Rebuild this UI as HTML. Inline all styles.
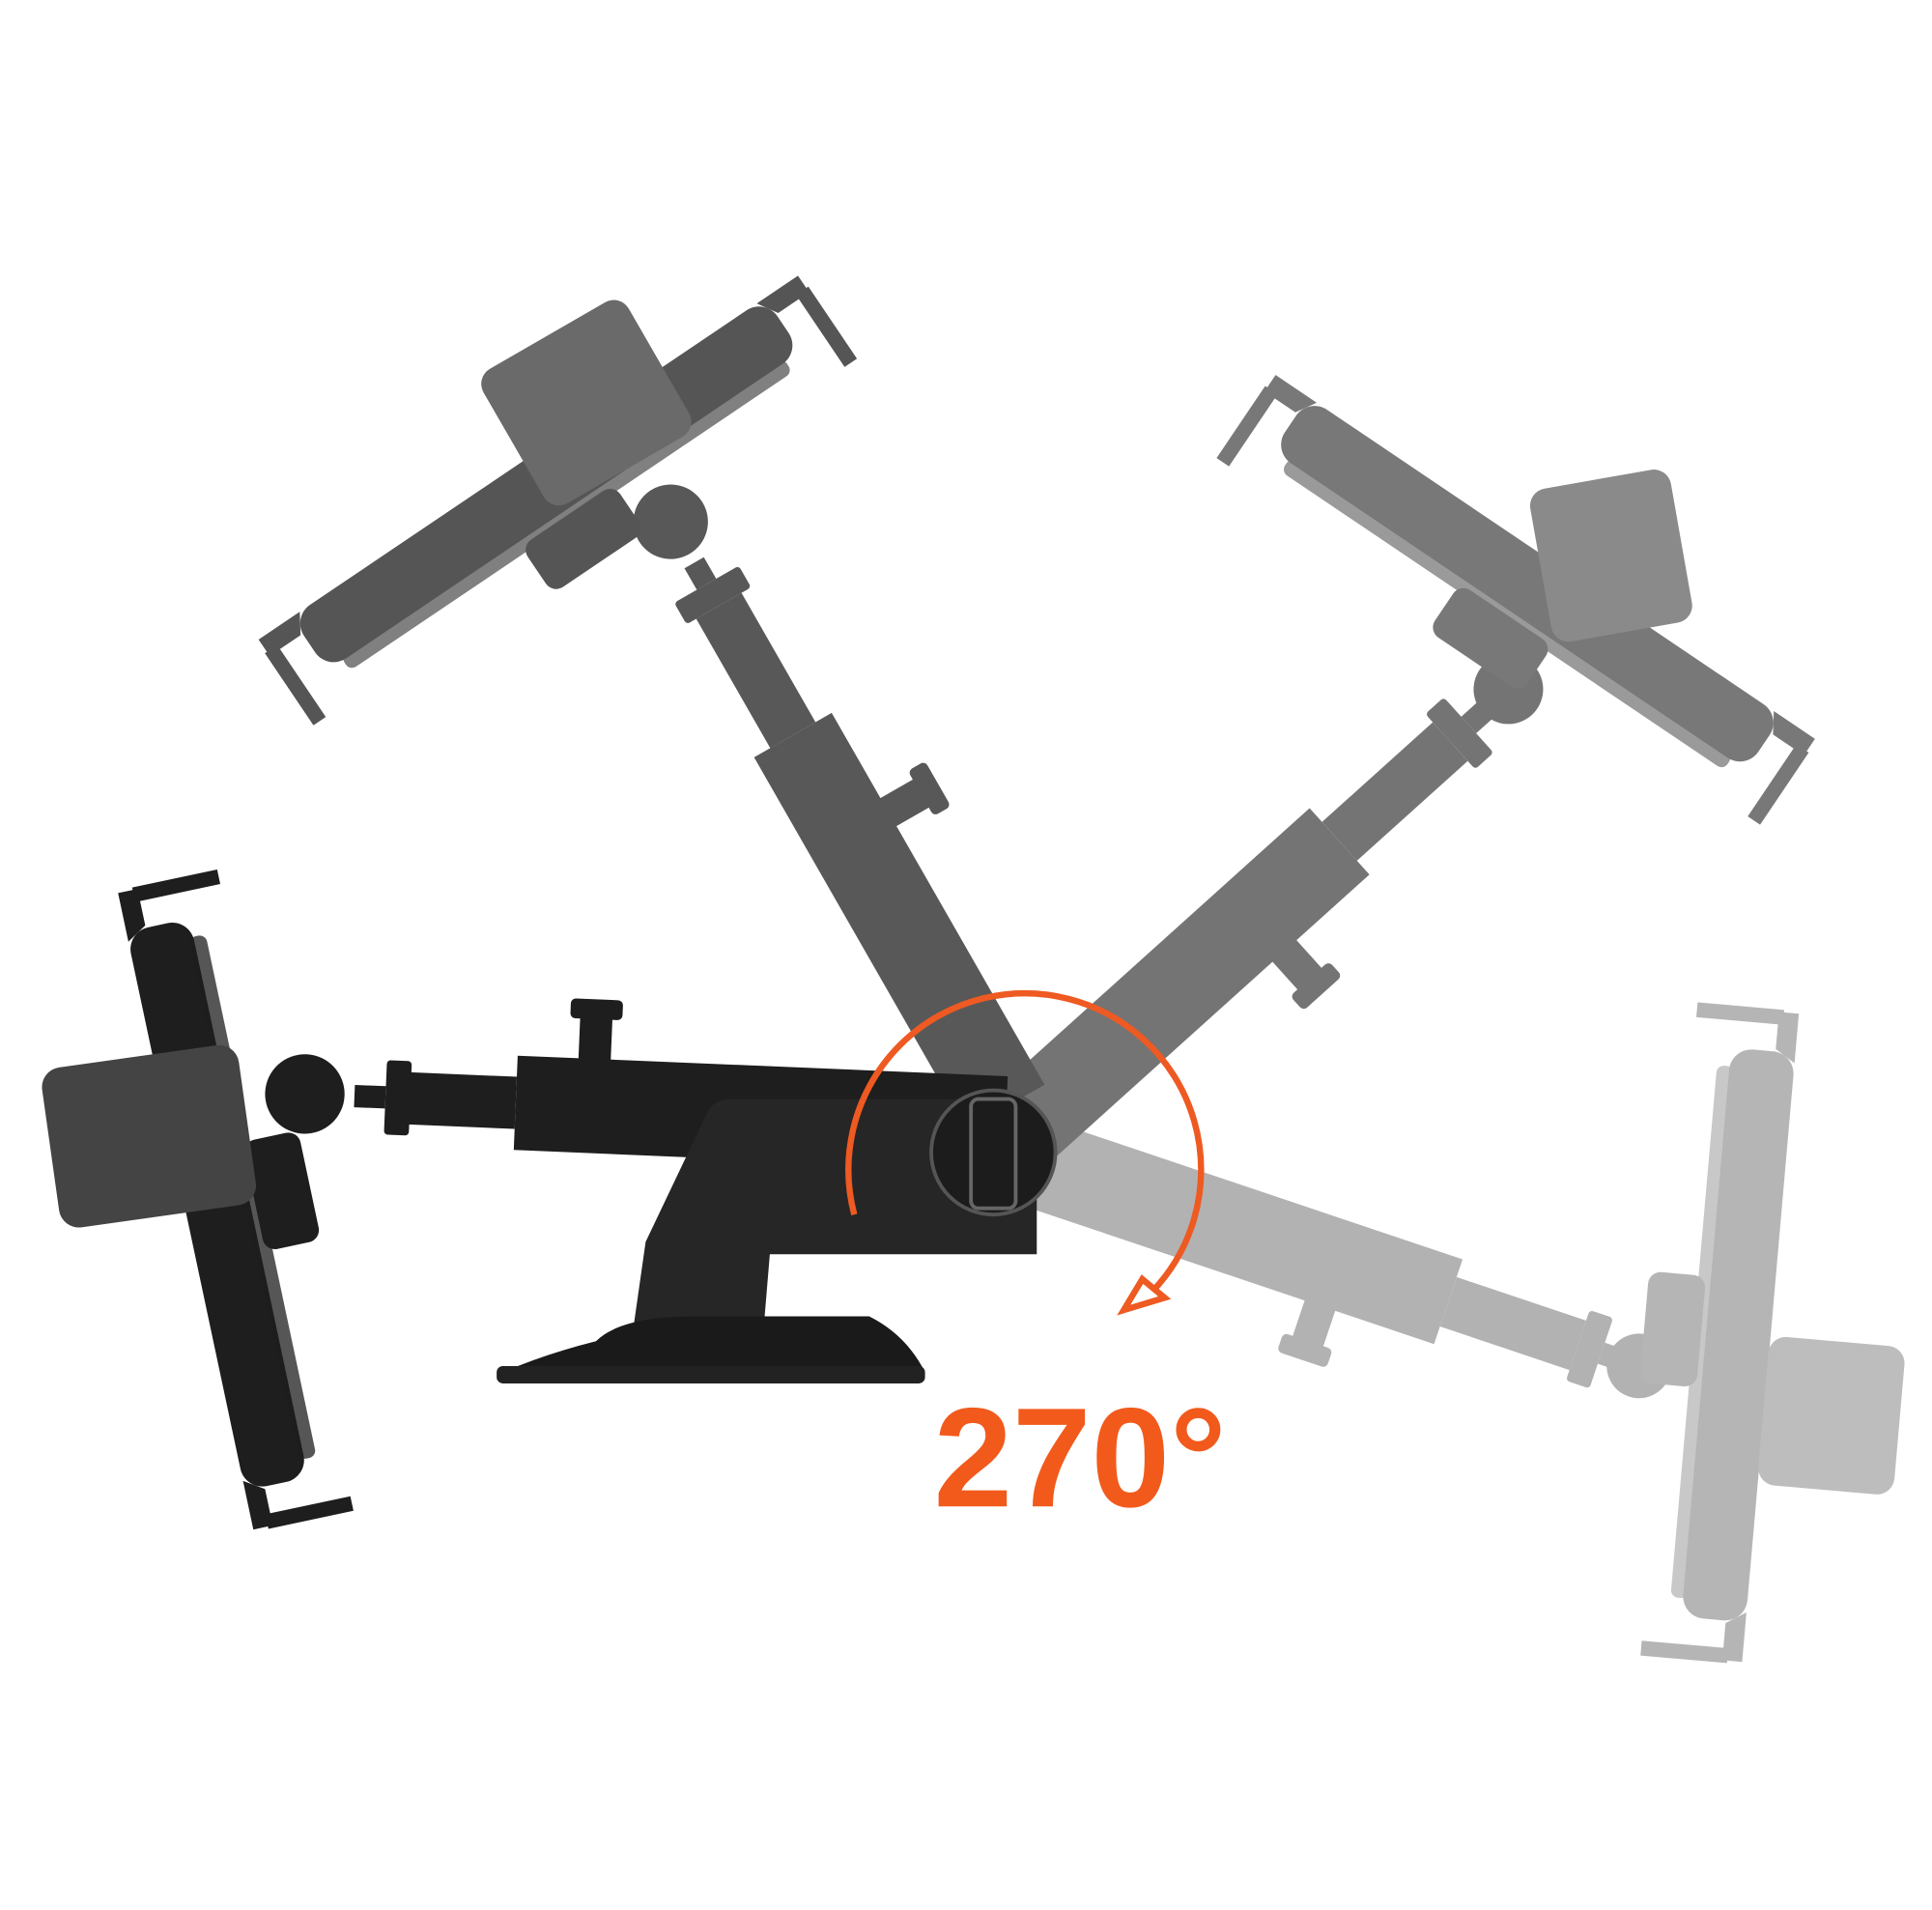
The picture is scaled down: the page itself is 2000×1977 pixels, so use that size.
<!DOCTYPE html>
<html><head><meta charset="utf-8"><style>
html,body{margin:0;padding:0;background:#fff;}
svg{display:block;}
</style></head><body>
<svg width="2000" height="1977" viewBox="0 0 1556 1538" xmlns="http://www.w3.org/2000/svg">
<defs>
<g id="holder">
  <rect x="-26" y="-230" width="52" height="460" rx="18" fill="currentColor"/>
  <rect x="22" y="-215" width="14" height="430" rx="6" fill="currentColor" opacity="0.75"/>
  <path d="M-26 -222 L-26 -262 L-10 -262 L-10 -232 Z" fill="currentColor"/>
  <path d="M-26 222 L-26 262 L-10 262 L-10 232 Z" fill="currentColor"/>
  <rect x="-14" y="-264" width="70" height="12" fill="currentColor"/>
  <rect x="-14" y="252" width="70" height="12" fill="currentColor"/>
  <rect x="30" y="-45" width="46" height="90" rx="10" fill="currentColor"/>
</g>
</defs>

<!-- lower right (lightest) -->
<g fill="#b2b2b2" transform="translate(830,935) rotate(18.6)">
  <rect x="10" y="-36" width="345" height="72"/>
  <rect x="355" y="-21" width="110" height="42"/>
  <rect x="465" y="-30" width="20" height="60" rx="3"/>
  <rect x="485" y="-9" width="20" height="18"/>
  <circle cx="517" cy="0" r="26"/>
  <rect x="245" y="34" width="26" height="36"/>
  <rect x="237" y="66" width="42" height="16" rx="4"/>
</g>
<g color="#b5b5b5" transform="translate(1400,1075) rotate(5)"><use href="#holder" transform="scale(-1,1)"/></g>
<rect x="1420" y="1080" width="110" height="120" rx="14" fill="#bdbdbd" transform="rotate(5 1475 1140)"/>

<!-- upper right -->
<g fill="#747474" transform="translate(815,915) rotate(-42)">
  <rect x="10" y="-36" width="345" height="72"/>
  <rect x="355" y="-21" width="120" height="42"/>
  <rect x="475" y="-30" width="20" height="60" rx="3"/>
  <rect x="495" y="-9" width="20" height="18"/>
  <circle cx="538" cy="0" r="28"/>
  <rect x="250" y="34" width="26" height="36"/>
  <rect x="242" y="66" width="42" height="16" rx="4"/>
</g>
<g color="#787878" transform="translate(1230,470) rotate(-56)"><use href="#holder" transform="scale(-1,1)"/></g>
<rect x="1240" y="385" width="115" height="125" rx="14" fill="#8a8a8a" transform="rotate(-10 1297 447)"/>

<!-- upper left -->
<g fill="#585858" transform="translate(815,900) rotate(-119.8)">
  <rect x="10" y="-36" width="345" height="72"/>
  <rect x="355" y="-21" width="120" height="42"/>
  <rect x="475" y="-30" width="20" height="60" rx="3"/>
  <rect x="495" y="-9" width="20" height="18"/>
  <circle cx="553" cy="0" r="30"/>
  <rect x="250" y="34" width="26" height="36"/>
  <rect x="242" y="66" width="42" height="16" rx="4"/>
</g>
<g color="#555" transform="translate(440,390) rotate(56)"><use href="#holder"/></g>
<rect x="405" y="262" width="135" height="125" rx="14" fill="#6a6a6a" transform="rotate(-30 472 325)"/>

<!-- left arm (dark) -->
<g fill="#1e1e1e" transform="translate(820,905) rotate(182.4)">
  <rect x="10" y="-38" width="395" height="76"/>
  <rect x="405" y="-21" width="95" height="42"/>
  <rect x="490" y="-30" width="20" height="60" rx="3"/>
  <rect x="510" y="-9" width="25" height="18"/>
  <circle cx="575" cy="0" r="32"/>
  <rect x="330" y="34" width="26" height="40"/>
  <rect x="322" y="70" width="42" height="16" rx="4"/>
</g>
<g color="#1e1e1e" transform="translate(175,970) rotate(-12)"><use href="#holder"/></g>
<rect x="40" y="850" width="160" height="130" rx="16" fill="#444" transform="rotate(-8 120 915)"/>

<!-- base -->
<path d="M570 895 Q575 885 590 885 L790 885 L835 900 L835 1010 L620 1010 L615 1070 L510 1070 L520 1000 Z" fill="#262626"/>
<path d="M480 1080 Q500 1060 560 1060 L700 1060 Q730 1075 745 1105 L405 1105 Q440 1090 480 1080 Z" fill="#1a1a1a"/>
<rect x="400" y="1100" width="345" height="14" rx="5" fill="#222"/>
<circle cx="800" cy="928" r="50" fill="#1c1c1c" stroke="#555" stroke-width="3"/>
<rect x="782" y="885" width="36" height="88" rx="6" fill="none" stroke="#666" stroke-width="3"/>

<!-- orange arc -->
<path d="M688 978 A142 142 0 1 1 928 1040" fill="none" stroke="#ee5a22" stroke-width="5"/>
<polygon points="905,1055 938,1045 920,1030" fill="#fff" stroke="#ee5a22" stroke-width="5"/>

<text x="752" y="1213" font-family="Liberation Sans, sans-serif" font-weight="bold" font-size="114" fill="#f25a1c">270°</text>
</svg>
</body></html>
